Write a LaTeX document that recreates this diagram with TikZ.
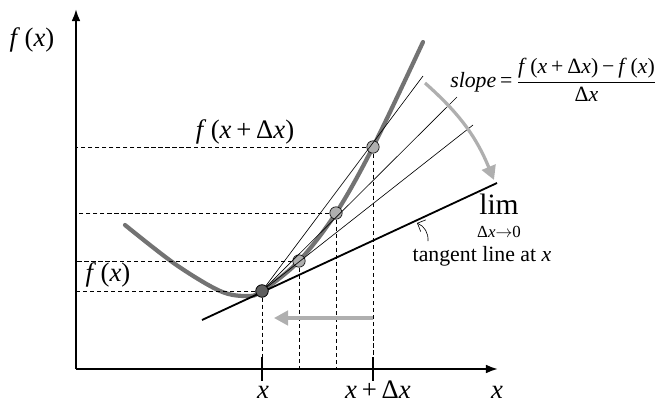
\documentclass[tikz,border=0pt]{standalone}
\usepackage{fontspec}
\setmainfont{Liberation Serif}
\usetikzlibrary{arrows.meta, calc}
\definecolor{curvegray}{RGB}{115,115,115}
\definecolor{arrowgray}{RGB}{175,175,175}
\definecolor{dotlight}{RGB}{175,175,175}
\definecolor{dotdark}{RGB}{95,95,95}
\newcommand{\gp}{\hspace{0.18em}}

\begin{document}
\begin{tikzpicture}[x=0.025cm, y=-0.025cm,
    axis/.style={line width=1.5pt, -{Latex[length=3mm,width=2.2mm]}},
    guide/.style={line width=0.45pt, dash pattern=on 3pt off 2pt},
    secant/.style={line width=0.45pt},
    dot/.style={circle, draw=black, line width=0.45pt, fill=dotlight, minimum size=0.31cm, inner sep=0pt},
    move/.style={line width=2.3pt, arrowgray, -{Triangle[length=3.5mm,width=3.6mm]}},
    lbl/.style={font=\fontsize{19}{22}\selectfont, inner sep=0pt, anchor=base}]
  \useasboundingbox (0,0) rectangle (667,402);

  %% Axes
  \coordinate (o) at (76,369);
  \coordinate (ytip) at (76,9);
  \coordinate (xtip) at (498,369);
  \draw[axis] (o) -- (ytip);
  \draw[axis] (o) -- (xtip);
  \node[lbl] (ylbl) at (32,46) {\textit{f}\,(\textit{x})};
  \node[lbl] (xlbl) at (497,398) {\textit{x}};

  %% The function
  \draw[curvegray, line width=3pt, line cap=round] plot[smooth, tension=0.55] coordinates
    {(125,225) (175,264) (220,291) (247,296) (262,291) (299,261) (336,213) (373,147) (423,42)};

  %% Points on the curve
  \node[dot] (p1) at (299,261) {};
  \node[dot] (p2) at (336,213) {};
  \node[dot] (p3) at (373,147) {};

  %% Secant and tangent lines
  \coordinate (s3) at (423,76);
  \coordinate (s2) at (457,97);
  \coordinate (s1) at (473,125);
  \coordinate (tl0) at (202,320);
  \coordinate (tl1) at (497,183);
  \draw[line width=1.3pt] (tl0) -- (tl1);
  \node[dot, fill=dotdark] (p0) at (262,291) {};
  \foreach \s in {1,2,3}{
    \draw[secant] (p0.center) -- (s\s);
  }
  \node[dot, fill=dotdark] at (p0) {};

  %% Guide lines
  \foreach \p in {p0,p1,p2,p3}{
    \draw[guide] (\p) -- (\p -| o);
    \draw[guide] (\p) -- (\p |- o);
  }

  %% Ticks and labels on the x axis
  \draw[line width=2pt] ($(p0 |- o)+(0,-12)$) -- ($(p0 |- o)+(0,12)$);
  \draw[line width=2pt] ($(p3 |- o)+(0,-12)$) -- ($(p3 |- o)+(0,12)$);
  \node[lbl] (xa) at (263,398) {\textit{x}};
  \node[lbl] (xb) at (378,398) {\textit{x}\gp+\gp Δ\textit{x}};
  \node[lbl] (fa) at (108,281) {\textit{f}\,(\textit{x})};
  \node[lbl] (fb) at (245,138) {\textit{f}\,(\textit{x}\gp+\gp Δ\textit{x})};

  %% Shrinking step
  \coordinate (mv0) at (373,318);
  \coordinate (mv1) at (274,318);
  \draw[move] (mv0) -- (mv1);
  \coordinate (rot0) at (425,83);
  \coordinate (rot1) at (494,180);
  \draw[move] (rot0) to[bend left=13] (rot1);

  %% Formula and limit
  \node[font=\fontsize{15.5}{18}\selectfont, anchor=west, inner sep=0pt] (slope) at (450,80)
    {\textit{slope}\gp=\gp$\displaystyle\frac{\mbox{\textit{f}\,(\textit{x}\gp+\gp Δ\textit{x})\gp−\gp\textit{f}\,(\textit{x})}}{\mbox{Δ\textit{x}}}$};
  \node[font=\fontsize{21}{21}\selectfont, inner sep=0pt, anchor=base] (lim) at (499,214) {lim};
  \node[font=\fontsize{12}{12}\selectfont, inner sep=0pt, anchor=base] (limsub) at (499,237) {Δ\textit{x}$\rightarrow$0};
  \node[font=\fontsize{15.5}{18}\selectfont, inner sep=0pt] (tang) at (482,256) {tangent line at \textit{x}};
  \coordinate (tf) at (428,241);
  \coordinate (th) at (417,223);
  \draw[line width=0.45pt, -{Straight Barb[length=1.6mm]}] (tf) to[bend right=35] (th);
\end{tikzpicture}
\end{document}
